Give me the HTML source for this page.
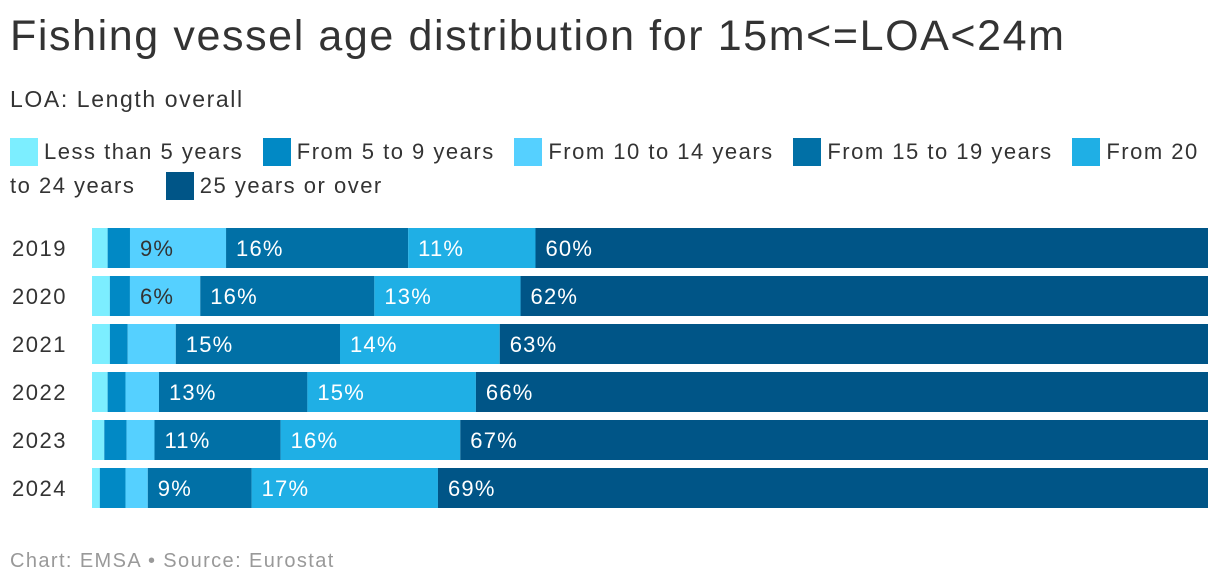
<!DOCTYPE html>
<html><head><meta charset="utf-8"><style>
body{margin:0;width:1220px;height:588px;background:#fff;font-family:"Liberation Sans",sans-serif;color:#333;overflow:hidden;position:relative}
.t{position:absolute;left:10px;top:12px;font-size:43px;letter-spacing:1.6px;color:#333}
.s{position:absolute;left:10px;top:86px;font-size:23px;letter-spacing:1.6px;color:#333}
.lg{position:absolute;left:10px;top:135px;width:1210px;font-size:22px;letter-spacing:1.5px;line-height:34px;color:#333}
.li{display:inline-block;margin-right:12px;white-space:nowrap}
.sw{display:inline-block;width:28px;height:28px;vertical-align:-7px;margin-right:6px}
.f{position:absolute;left:10px;top:550px;font-size:20px;letter-spacing:1.4px;color:#999}
</style></head><body>
<div class="t">Fishing vessel age distribution for 15m&lt;=LOA&lt;24m</div>
<div class="s">LOA: Length overall</div>
<div class="lg">
<span class="li"><span class="sw" style="background:#7ceeff"></span>Less than 5 years</span>
<span class="li"><span class="sw" style="background:#0189c5"></span>From 5 to 9 years</span>
<span class="li"><span class="sw" style="background:#55d0ff"></span>From 10 to 14 years</span>
<span class="li"><span class="sw" style="background:#0170a6"></span>From 15 to 19 years</span>
<span><span class="sw" style="background:#1fafe5"></span>From 20 to 24 years</span>&nbsp;&nbsp;&nbsp;
<span class="li"><span class="sw" style="background:#005587"></span>25 years or over</span>
</div>
<svg id="c" width="1220" height="588" style="position:absolute;left:0;top:0"></svg>
<div class="f">Chart: EMSA • Source: Eurostat</div>
<script>
const years=["2019","2020","2021","2022","2023","2024"];
const lt5=[1.4,1.6,1.6,1.4,1.1,0.7];
const y5to9=[2.0,1.8,1.6,1.6,2.0,2.3];
const y10to14=[8.6,6.3,4.3,3.0,2.5,2.0];
const y15to19=[16.3,15.6,14.7,13.3,11.3,9.3];
const y20to24=[11.4,13.1,14.3,15.1,16.1,16.7];
const y25plus=[60.2,61.6,63.4,65.6,67.0,69.0];
const series=[lt5,y5to9,y10to14,y15to19,y20to24,y25plus];
const names=["lt5","5-9","10-14","15-19","20-24","25plus"];
const colors=["#7ceeff","#0189c5","#55d0ff","#0170a6","#1fafe5","#005587"];
const txt=["#333","#fff","#333","#fff","#fff","#fff"];
const NS="http://www.w3.org/2000/svg",svg=document.getElementById("c");
const x0=92,x1=1208,yTop=228,step=48,bh=40;
function yPos(i){return yTop+i*step;}
years.forEach((yr,i)=>{
  const tot=series.reduce((a,s)=>a+s[i],0);
  const sx=v=>v/tot*(x1-x0);
  const lab=document.createElementNS(NS,"text");
  
  
  lab.setAttribute("x",12);lab.setAttribute("y",yPos(i)+bh/2+8);
  lab.setAttribute("font-size","22");lab.setAttribute("letter-spacing","1.5");lab.setAttribute("fill","#333");
  lab.textContent=yr;svg.appendChild(lab);
  let cx=x0;
  series.forEach((s,k)=>{
    const w=sx(s[i]);
    const r=document.createElementNS(NS,"rect");
    
    
    r.setAttribute("x",cx);r.setAttribute("y",yPos(i));r.setAttribute("width",w);r.setAttribute("height",bh);
    r.setAttribute("fill",colors[k]);svg.appendChild(r);
    if(s[i]>=5){
      const t=document.createElementNS(NS,"text");
      
      
      t.setAttribute("x",cx+10);t.setAttribute("y",yPos(i)+bh/2+8);
      t.setAttribute("font-size","22");t.setAttribute("letter-spacing","1.2");t.setAttribute("fill",txt[k]);
      t.textContent=Math.round(s[i])+"%";svg.appendChild(t);
    }
    cx+=w;
  });
});
</script>
</body></html>
